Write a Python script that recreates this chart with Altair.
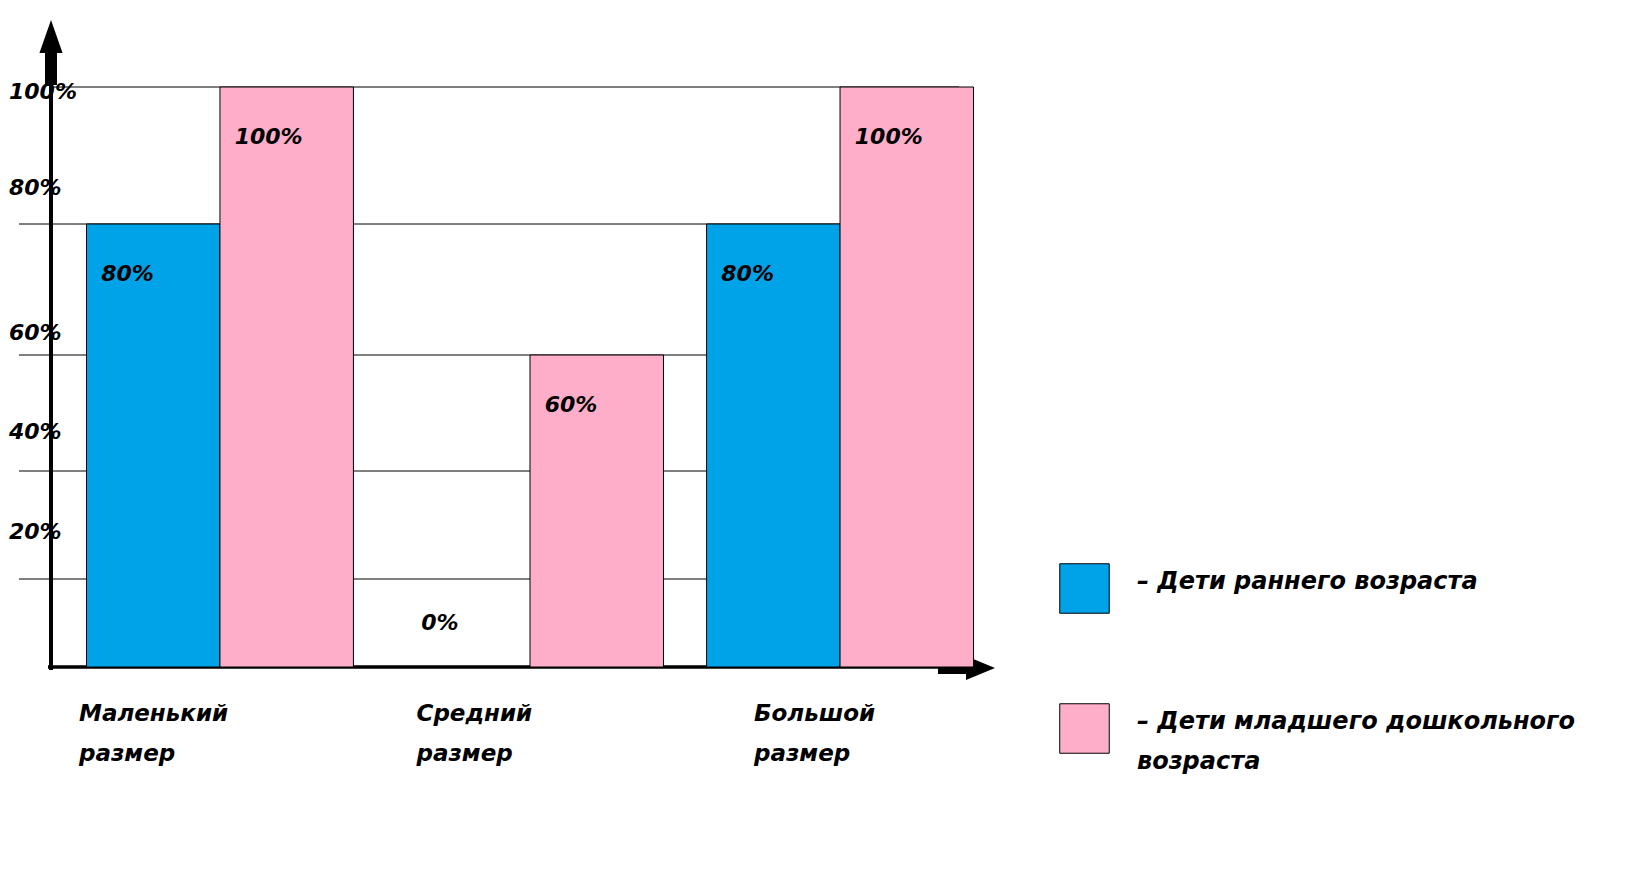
import altair as alt
import pandas as pd

categories = ["Маленький размер", "Средний размер", "Большой размер"]
series = ["Дети раннего возраста", "Дети младшего дошкольного возраста"]
early_values = [80, 0, 80]
junior_values = [100, 60, 100]
y_ticks = [20, 40, 60, 80, 100]
colors = ["#00A2E8", "#FFAEC9"]

rows = []
for i, c in enumerate(categories):
    rows.append({"category": c, "series": series[0], "value": early_values[i]})
    rows.append({"category": c, "series": series[1], "value": junior_values[i]})
df = pd.DataFrame(rows)
grid_df = pd.DataFrame({"tick": y_ticks})
cat_df = pd.DataFrame({"category": categories})
one = pd.DataFrame({"k": [0]})

FONT = "DejaVu Sans"
W, H = 958, 580

# hand-drawn, uneven vertical scale (bars and grid lines)
yscale = alt.Scale(domain=[0, 20, 40, 60, 80, 100], range=[580, 492, 384, 268, 137, 0])
# hand-placed tick labels sit above their grid lines
ylab_scale = alt.Scale(domain=[0, 20, 40, 60, 80, 100], range=[580, 445, 345, 246, 101, 5])
xscale = alt.Scale(domain=categories, paddingInner=0.139, paddingOuter=0.1145)
xoff_scale = alt.Scale(domain=series, paddingInner=0, paddingOuter=0)
xlab_scale = alt.Scale(type="point", domain=categories, range=[28, 703], padding=0)

font_kw = dict(font=FONT, fontWeight="bold", fontStyle="italic", color="black")

grid = alt.Chart(grid_df).transform_filter("datum.tick < 100").mark_rule(
    color="black", strokeWidth=1
).encode(
    y=alt.Y("tick:Q", scale=yscale, axis=None),
    x=alt.value(-32),
    x2=alt.value(915),
)
grid_top = alt.Chart(grid_df).transform_filter("datum.tick == 100").mark_rule(
    color="black", strokeWidth=1
).encode(
    y=alt.Y("tick:Q", scale=yscale, axis=None),
    x=alt.value(0),
    x2=alt.value(908),
)

ylabels = alt.Chart(grid_df).transform_calculate(
    label="datum.tick + '%'"
).mark_text(align="left", baseline="middle", fontSize=22, **font_kw).encode(
    y=alt.Y("tick:Q", scale=ylab_scale, axis=None),
    x=alt.value(-42),
    text="label:N",
)

xlabels = alt.Chart(cat_df).transform_calculate(
    lines="split(datum.category, ' ')"
).mark_text(align="left", baseline="top", lineHeight=40, fontSize=23, **font_kw).encode(
    x=alt.X("category:N", scale=xlab_scale, sort=categories, axis=None),
    y=alt.value(616),
    text="lines:N",
)

yline = alt.Chart(one).mark_rule(color="black", strokeWidth=4).encode(
    x=alt.value(0), y=alt.value(583), y2=alt.value(-34))
yshaft = alt.Chart(one).mark_rule(color="black", strokeWidth=12).encode(
    x=alt.value(0), y=alt.value(-34), y2=alt.value(-2))
yhead = alt.Chart(one).mark_point(
    shape="M-0.7,1L0,-1L0.7,1Z", filled=True, color="black", opacity=1, size=1089
).encode(x=alt.value(0), y=alt.value(-50.5))
xline = alt.Chart(one).mark_rule(color="black", strokeWidth=3.5).encode(
    y=alt.value(580), x=alt.value(-3), x2=alt.value(887))
xshaft = alt.Chart(one).mark_rule(color="black", strokeWidth=7).encode(
    y=alt.value(583.5), x=alt.value(887), x2=alt.value(916))
xhead = alt.Chart(one).mark_point(
    shape="M-1,-0.83L1,0L-1,0.83Z", filled=True, color="black", opacity=1, size=841
).encode(x=alt.value(929.5), y=alt.value(581))

bars = alt.Chart(df).mark_bar(stroke="black", strokeWidth=1).encode(
    x=alt.X("category:N", scale=xscale, sort=categories, axis=None),
    xOffset=alt.XOffset("series:N", scale=xoff_scale, sort=series),
    y=alt.Y("value:Q", scale=yscale, axis=None),
    color=alt.Color("series:N", sort=series,
                    scale=alt.Scale(domain=series, range=colors),
                    legend=alt.Legend(
                        title=None, orient="none", legendX=1008, legendY=476,
                        symbolType="square", symbolSize=2450, symbolStrokeColor="black",
                        symbolStrokeWidth=1, symbolOpacity=1,
                        labelFont=FONT, labelFontSize=24, labelFontWeight="bold",
                        labelFontStyle="italic", labelColor="black", labelLimit=0,
                        labelOffset=27, rowPadding=85, labelBaseline="alphabetic",
                        padding=0,
                        labelExpr="length(datum.label) > 25 ? ['– ' + slice(datum.label, 0, lastindexof(datum.label, ' ')), slice(datum.label, lastindexof(datum.label, ' ') + 1)] : '– ' + datum.label",
                    )),
)

text_pos = alt.Chart(df).transform_filter("datum.value > 0").transform_calculate(
    label="datum.value + '%'"
).mark_text(align="left", baseline="middle", dx=-52, dy=50, fontSize=22, **font_kw).encode(
    x=alt.X("category:N", scale=xscale, sort=categories, axis=None),
    xOffset=alt.XOffset("series:N", scale=xoff_scale, sort=series),
    y=alt.Y("value:Q", scale=yscale, axis=None),
    text="label:N",
)
text_zero = alt.Chart(df).transform_filter("datum.value == 0").transform_calculate(
    label="datum.value + '%'"
).mark_text(align="left", baseline="middle", dx=-42, dy=-44, fontSize=22, **font_kw).encode(
    x=alt.X("category:N", scale=xscale, sort=categories, axis=None),
    xOffset=alt.XOffset("series:N", scale=xoff_scale, sort=series),
    y=alt.Y("value:Q", scale=yscale, axis=None),
    text="label:N",
)

chart = alt.layer(
    grid, grid_top, yline, yshaft, yhead, xline, xshaft, xhead, bars, text_pos, text_zero,
    ylabels, xlabels
).resolve_scale(
    x="independent", y="independent"
).properties(
    width=W, height=H,
    autosize=alt.AutoSizeParams(type="none"),
    padding={"left": 43, "top": 79, "right": 600, "bottom": 150},
    background="white",
).configure(
    style={"guide-label": {"lineHeight": 40}}
).configure_view(stroke=None)

chart.save("out.html", embed_options={"renderer": "svg", "actions": False})
